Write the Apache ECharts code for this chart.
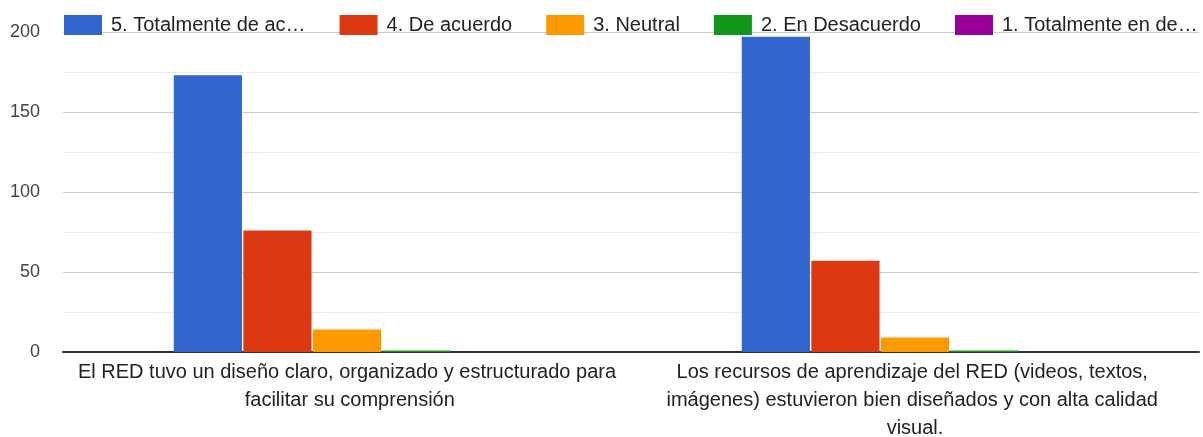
<!DOCTYPE html>
<html>
<head>
<meta charset="utf-8">
<script src="https://cdn.jsdelivr.net/npm/echarts@6/dist/echarts.min.js"></script>
<style>
  html, body { margin: 0; padding: 0; background: #fff; }
  #chart { width: 1203px; height: 437px; }
</style>
</head>
<body>
<div id="chart"></div>
<script>
// categorías del eje x
const categories = [
  'El RED tuvo un diseño claro, organizado y estructurado para facilitar su comprensión',
  'Los recursos de aprendizaje del RED (videos, textos, imágenes) estuvieron bien diseñados y con alta calidad visual.'
]
const seriesNames = [
  '5. Totalmente de acuerdo',
  '4. De acuerdo',
  '3. Neutral',
  '2. En Desacuerdo',
  '1. Totalmente en desacuerdo'
]
const totalmenteAcuerdo = [173, 197]
const deAcuerdo = [76, 57]
const neutral = [14, 9]
const enDesacuerdo = [1, 1]
const totalmenteDesacuerdo = [0, 0]
const yTicks = [0, 50, 100, 150, 200]

const colors = ['#3366cc', '#dc3912', '#ff9900', '#109618', '#990099']
const values = [totalmenteAcuerdo, deAcuerdo, neutral, enDesacuerdo, totalmenteDesacuerdo]
const font = '"Liberation Sans", Arial, sans-serif'

const chart = echarts.init(document.getElementById('chart'))
chart.setOption({
  animation: false,
  color: colors,
  grid: {
    left: 63, right: 4, top: 32, bottom: 85,
    containLabel: false, outerBoundsMode: 'none'
  },
  legend: {
    left: 59,
    top: 15,
    padding: [0, 5],
    itemWidth: 38,
    itemHeight: 20,
    itemGap: 34,
    icon: 'rect',
    // nombres largos recortados como en la leyenda original
    formatter: name => name.length > 19 ? name.slice(0, 19) + '…' : name,
    textStyle: {
      fontFamily: font, fontSize: 20, color: '#222',
      padding: [14, 0, 0, 4]
    },
    data: seriesNames
  },
  xAxis: {
    type: 'category',
    data: categories,
    axisTick: { show: false },
    axisLine: { lineStyle: { color: '#333', width: 2 } },
    axisLabel: {
      interval: 0,
      width: 548,
      overflow: 'break',
      lineHeight: 28,
      margin: 6,
      fontFamily: font,
      fontSize: 20,
      color: '#222'
    }
  },
  yAxis: {
    type: 'value',
    min: yTicks[0],
    max: yTicks[yTicks.length - 1],
    interval: 50,
    axisLabel: { fontFamily: font, fontSize: 18, color: '#444', margin: 23 },
    axisLine: { show: false },
    axisTick: { show: false },
    splitLine: { lineStyle: { color: '#cccccc', width: 1 } },
    minorTick: { show: false, splitNumber: 2 },
    minorSplitLine: { show: true, lineStyle: { color: '#ebebeb', width: 1 } }
  },
  series: seriesNames.map((name, i) => ({
    name: name,
    type: 'bar',
    data: values[i],
    barGap: '2%',
    barCategoryGap: '39%',
    itemStyle: { color: colors[i] }
  }))
})
</script>
</body>
</html>
